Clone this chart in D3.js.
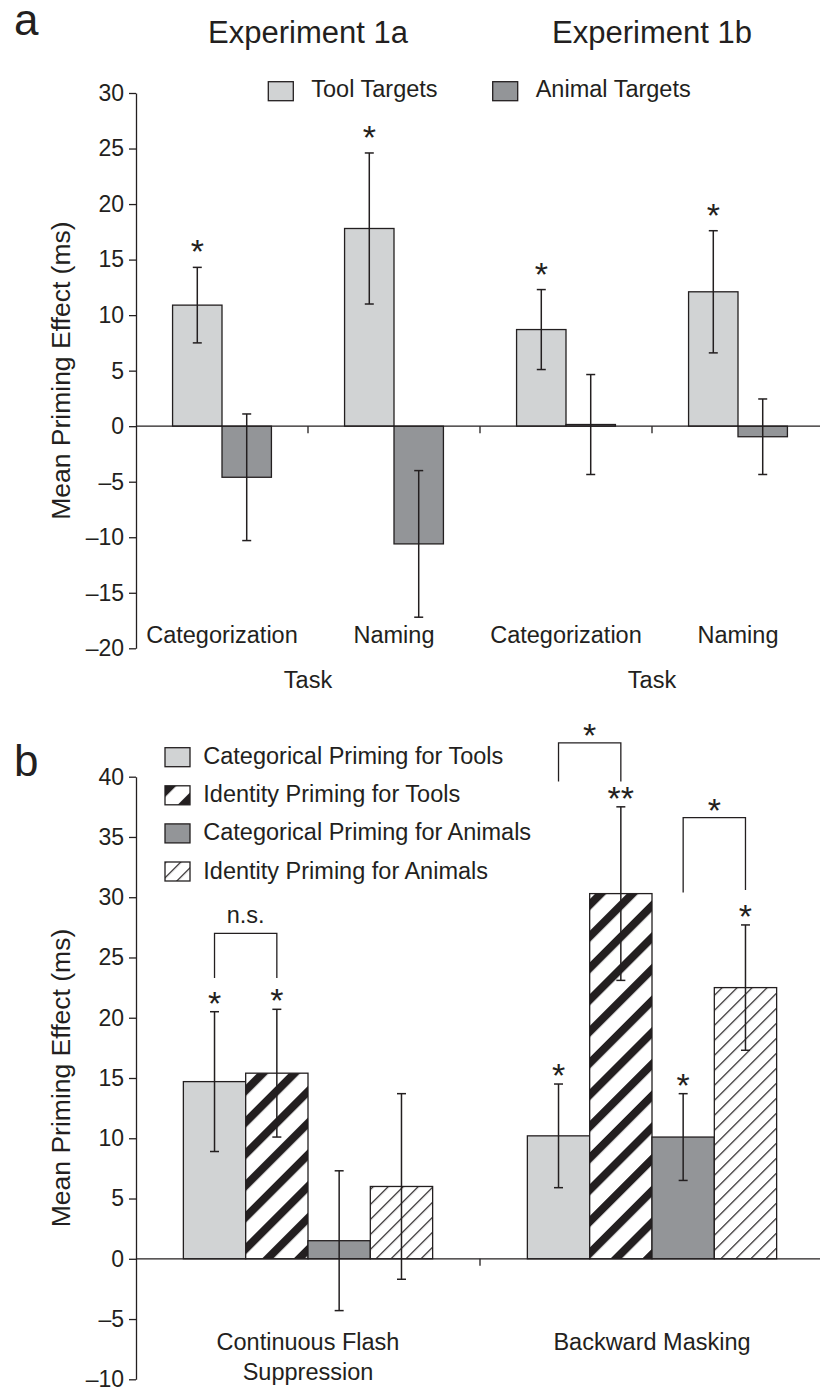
<!DOCTYPE html>
<meta charset="utf-8">
<style>
  body { margin: 0; background: #fff; }
  svg { display: block; font-family: "Liberation Sans", Arial, sans-serif; }
  text { fill: #231f20; }
  .axis path, .axis line, .zero line { stroke: #231f20; stroke-width: 1.3px; }
  .bar { stroke: #231f20; stroke-width: 1.3px; }
  .err line { stroke: #231f20; stroke-width: 1.5px; }
  .bracket { fill: none; stroke: #231f20; stroke-width: 1.3px; }
</style>
<svg width="820" height="1388"></svg>
<script src="https://d3js.org/d3.v7.min.js"></script>
<script>
// ---- panel a data ----
var experiments = ["Experiment 1a", "Experiment 1b"];
var tasksA = ["Categorization", "Naming", "Categorization", "Naming"];
var targetSeries = ["Tool Targets", "Animal Targets"];
var toolMean = [10.9, 17.8, 8.7, 12.1];
var toolErr = [3.4, 6.8, 3.6, 5.5];
var toolSig = ["*", "*", "*", "*"];
var animalMean = [-4.6, -10.6, 0.15, -0.95];
var animalErr = [5.7, 6.6, 4.5, 3.4];
var animalSig = ["", "", "", ""];
var ticksA = [-20, -15, -10, -5, 0, 5, 10, 15, 20, 25, 30];

// ---- panel b data ----
var methods = [["Continuous Flash", "Suppression"], ["Backward Masking"]];
var primingSeries = ["Categorical Priming for Tools", "Identity Priming for Tools",
                     "Categorical Priming for Animals", "Identity Priming for Animals"];
var catToolMean = [14.7, 10.2], catToolErr = [5.8, 4.3], catToolSig = ["*", "*"];
var idToolMean = [15.4, 30.3], idToolErr = [5.3, 7.2], idToolSig = ["*", "**"];
var catAnimalMean = [1.5, 10.1], catAnimalErr = [5.8, 3.6], catAnimalSig = ["", "*"];
var idAnimalMean = [6.0, 22.5], idAnimalErr = [7.7, 5.2], idAnimalSig = ["", "*"];
var ticksB = [-10, -5, 0, 5, 10, 15, 20, 25, 30, 35, 40];
// comparison brackets (levels in ms)
var brackets = [
  {method: 0, from: 0, to: 1, label: "n.s.", level: 27.0, leftEnd: 23.3, rightEnd: 23.3},
  {method: 1, from: 0, to: 1, label: "*", level: 42.8, leftEnd: 39.6, rightEnd: 39.6},
  {method: 1, from: 2, to: 3, label: "*", level: 36.6, leftEnd: 30.4, rightEnd: 30.6}
];

var ink = "#231f20";
var lightGray = "#d1d3d4", darkGray = "#939598";
var font = "Liberation Sans, Arial, sans-serif";
var left = 136, right = 824;

var svg = d3.select("svg");
svg.append("rect").attr("width", "100%").attr("height", "100%").attr("fill", "#fff");

/* ---------- patterns ---------- */
var defs = svg.append("defs");
function stripes(id, period, thick) {
  var p = defs.append("pattern")
      .attr("id", id)
      .attr("patternUnits", "userSpaceOnUse")
      .attr("width", period).attr("height", period)
      .attr("patternTransform", "rotate(45)");
  p.append("rect").attr("width", period).attr("height", period).attr("fill", "#fff");
  p.append("rect").attr("x", 0).attr("width", thick).attr("height", period).attr("fill", ink);
}
stripes("thick", 22.4, 8);
stripes("thin", 10.6, 1.2);

function fmt(d) { return d < 0 ? "\u2013" + Math.abs(d) : d; }

function yAxis(y, ticks) {
  var g = svg.append("g")
      .attr("class", "axis")
      .attr("transform", "translate(" + left + ",0)")
      .call(d3.axisLeft(y).tickValues(ticks).tickSize(7).tickPadding(5).tickSizeOuter(0).tickFormat(fmt));
  g.attr("font-family", font).attr("font-size", 23).attr("color", ink);
}

function zeroLine(y, x, n) {
  var g = svg.append("g").attr("class", "zero");
  g.append("line").attr("x1", left).attr("x2", right).attr("y1", y(0)).attr("y2", y(0));
  g.selectAll(".tk").data(d3.range(1, n)).enter().append("line")
      .attr("x1", function(d) { return x(d); }).attr("x2", function(d) { return x(d); })
      .attr("y1", y(0)).attr("y2", y(0) + 7);
}

function drawBars(rows, y, starGap, starSize) {
  var g = svg.append("g");
  g.selectAll("rect").data(rows).enter().append("rect")
      .attr("class", "bar")
      .attr("x", function(d) { return d.x; })
      .attr("width", function(d) { return d.w; })
      .attr("y", function(d) { return y(Math.max(0, d.v)); })
      .attr("height", function(d) { return Math.abs(y(d.v) - y(0)); })
      .attr("fill", function(d) { return d.fill; });

  var e = g.selectAll(".err").data(rows).enter().append("g").attr("class", "err");
  e.append("line")
      .attr("x1", function(d) { return d.x + d.w / 2; }).attr("x2", function(d) { return d.x + d.w / 2; })
      .attr("y1", function(d) { return y(d.v + d.e); }).attr("y2", function(d) { return y(d.v - d.e); });
  [1, -1].forEach(function(s) {
    e.append("line")
        .attr("x1", function(d) { return d.x + d.w / 2 - 4.5; }).attr("x2", function(d) { return d.x + d.w / 2 + 4.5; })
        .attr("y1", function(d) { return y(d.v + s * d.e); }).attr("y2", function(d) { return y(d.v + s * d.e); });
  });

  g.selectAll(".star").data(rows.filter(function(d) { return d.sig; })).enter().append("text")
      .attr("text-anchor", "middle")
      .attr("font-size", starSize)
      .attr("x", function(d) { return d.x + d.w / 2; })
      .attr("y", function(d) { return y(d.v + d.e) - starGap + 0.59 * starSize; })
      .text(function(d) { return d.sig; });
}

/* ================= panel a ================= */
var yA = d3.scaleLinear().domain([-20, 30]).range([648.3, 93]);
var xA = d3.scaleBand().domain(d3.range(tasksA.length)).range([left, right]);
var xInA = d3.scaleBand().domain(targetSeries).range([0, xA.bandwidth()]).paddingInner(0).paddingOuter(0.74);
var xExp = d3.scaleBand().domain(experiments).range([left, right]);

var rowsA = [];
tasksA.forEach(function(t, i) {
  rowsA.push({x: xA(i) + xInA(targetSeries[0]), w: xInA.bandwidth(), v: toolMean[i], e: toolErr[i], sig: toolSig[i], fill: lightGray});
  rowsA.push({x: xA(i) + xInA(targetSeries[1]), w: xInA.bandwidth(), v: animalMean[i], e: animalErr[i], sig: animalSig[i], fill: darkGray});
});

yAxis(yA, ticksA);
drawBars(rowsA, yA, 24, 34);
zeroLine(yA, xA, tasksA.length);

svg.append("g").selectAll("text").data(tasksA).enter().append("text")
    .attr("text-anchor", "middle").attr("font-size", 23.5)
    .attr("x", function(d, i) { return xA(i) + xA.bandwidth() / 2; })
    .attr("y", 643)
    .text(function(d) { return d; });

svg.append("g").selectAll("text").data(experiments).enter().append("text")
    .attr("text-anchor", "middle").attr("font-size", 31)
    .attr("x", function(d) { return xExp(d) + xExp.bandwidth() / 2; })
    .attr("y", 43)
    .text(function(d) { return d; });

svg.append("g").selectAll("text").data(experiments).enter().append("text")
    .attr("text-anchor", "middle").attr("font-size", 23.5)
    .attr("x", function(d) { return xExp(d) + xExp.bandwidth() / 2; })
    .attr("y", 688)
    .text("Task");

var legA = svg.append("g").selectAll("g").data(targetSeries).enter().append("g")
    .attr("transform", function(d, i) { return "translate(" + [268.3, 492.7][i] + ",81.7)"; });
legA.append("rect").attr("class", "bar").attr("width", 25).attr("height", 19)
    .attr("fill", function(d, i) { return i ? darkGray : lightGray; });
legA.append("text").attr("x", 43).attr("y", 15.5).attr("font-size", 23.5).text(function(d) { return d; });

svg.append("text").attr("font-size", 26.5).attr("text-anchor", "middle")
    .attr("transform", "translate(70," + (yA(30) + yA(-20)) / 2 + ") rotate(-90)")
    .text("Mean Priming Effect (ms)");
svg.append("text").attr("x", 14).attr("y", 35).attr("font-size", 44).text("a");

/* ================= panel b ================= */
var yB = d3.scaleLinear().domain([-10, 40]).range([1379.3, 776.7]);
var xB = d3.scaleBand().domain(d3.range(methods.length)).range([left, right]);
var xInB = d3.scaleBand().domain(primingSeries).range([0, xB.bandwidth()]).paddingInner(0).paddingOuter(0.76);

var fillsB = [lightGray, "url(#thick)", darkGray, "url(#thin)"];
var meansB = [catToolMean, idToolMean, catAnimalMean, idAnimalMean];
var errsB = [catToolErr, idToolErr, catAnimalErr, idAnimalErr];
var sigsB = [catToolSig, idToolSig, catAnimalSig, idAnimalSig];

var rowsB = [];
methods.forEach(function(m, i) {
  primingSeries.forEach(function(s, j) {
    rowsB.push({x: xB(i) + xInB(s), w: xInB.bandwidth(), v: meansB[j][i], e: errsB[j][i], sig: sigsB[j][i], fill: fillsB[j]});
  });
});

yAxis(yB, ticksB);
drawBars(rowsB, yB, 17, 34);
zeroLine(yB, xB, methods.length);

// brackets
var br = svg.append("g");
brackets.forEach(function(b) {
  var x1 = xB(b.method) + xInB(primingSeries[b.from]) + xInB.bandwidth() / 2;
  var x2 = xB(b.method) + xInB(primingSeries[b.to]) + xInB.bandwidth() / 2;
  br.append("path").attr("class", "bracket")
      .attr("d", "M" + x1 + "," + yB(b.leftEnd) + "V" + yB(b.level) + "H" + x2 + "V" + yB(b.rightEnd));
  var isStar = b.label.indexOf("*") === 0;
  br.append("text").attr("text-anchor", "middle")
      .attr("font-size", isStar ? 34 : 23.5)
      .attr("x", (x1 + x2) / 2)
      .attr("y", isStar ? yB(b.level) - 16 + 0.59 * 34 : yB(b.level) - 10.5)
      .text(b.label);
});

// category labels
var catB = svg.append("g").selectAll("text").data(methods).enter().append("text")
    .attr("text-anchor", "middle").attr("font-size", 23.5)
    .attr("x", function(d, i) { return xB(i) + xB.bandwidth() / 2; })
    .attr("y", 1350);
catB.selectAll("tspan").data(function(d) { return d; }).enter().append("tspan")
    .attr("x", function() { return d3.select(this.parentNode).attr("x"); })
    .attr("dy", function(d, i) { return i ? 30 : 0; })
    .text(function(d) { return d; });

var legB = svg.append("g").selectAll("g").data(primingSeries).enter().append("g")
    .attr("transform", function(d, i) { return "translate(165," + (747.7 + i * 38.1) + ")"; });
legB.append("rect").attr("class", "bar").attr("width", 25).attr("height", 19)
    .attr("fill", function(d, i) { return fillsB[i]; });
legB.append("text").attr("x", 38.3).attr("y", 16.5).attr("font-size", 23.5).text(function(d) { return d; });

svg.append("text").attr("font-size", 26.5).attr("text-anchor", "middle")
    .attr("transform", "translate(70," + (yB(40) + yB(-10)) / 2 + ") rotate(-90)")
    .text("Mean Priming Effect (ms)");
svg.append("text").attr("x", 14).attr("y", 776).attr("font-size", 44).text("b");
</script>
